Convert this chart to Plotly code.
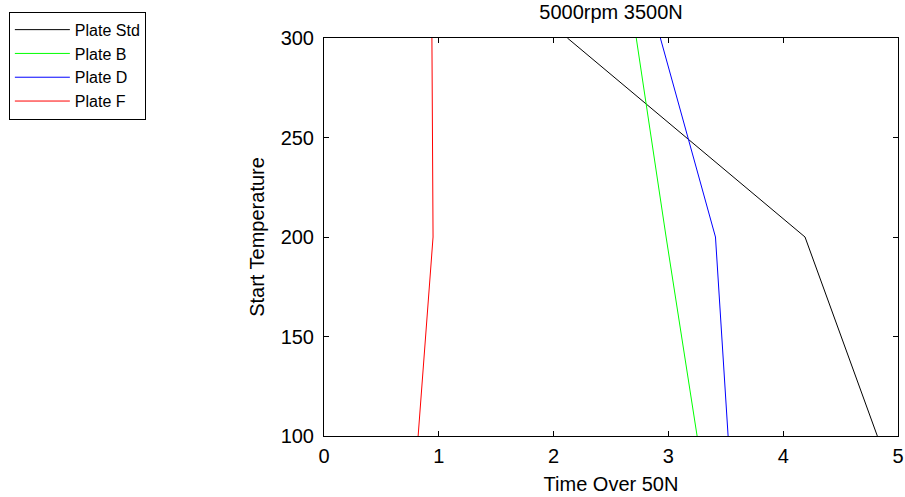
import plotly.graph_objects as go

# Start temperatures (y) and time over 50N (x) for each plate
start_temp = [100, 200, 300]
plate_std = [4.82, 4.19, 2.12]
plate_b = [3.25, 2.98, 2.72]
plate_d = [3.52, 3.41, 2.93]
plate_f = [0.82, 0.95, 0.94]

series = [
    ("Plate Std", plate_std, "black"),
    ("Plate B", plate_b, "#00ff00"),
    ("Plate D", plate_d, "#0000ff"),
    ("Plate F", plate_f, "#ff0000"),
]

FONT = "Arial, Liberation Sans, sans-serif"

fig = go.Figure()
for i, (name, xs, color) in enumerate(series):
    fig.add_trace(go.Scatter(
        x=xs, y=start_temp, mode="lines", name=name,
        line=dict(color=color, width=1),
        legendgroup=f"g{i}",
    ))

axis_common = dict(
    showline=True, linecolor="black", linewidth=1, mirror="ticks",
    ticks="inside", ticklen=5, tickcolor="black", tickwidth=1,
    showgrid=False, zeroline=False, automargin=False,
    tickfont=dict(family=FONT, size=20, color="black"),
)

fig.update_layout(
    width=905, height=497,
    margin=dict(l=324, r=7, t=38, b=61),
    paper_bgcolor="white", plot_bgcolor="white",
    font=dict(family=FONT, color="black"),
    title=dict(text="5000rpm 3500N", x=0.5, xref="paper", xanchor="center",
               y=0.976, yanchor="middle", font=dict(size=20, color="black")),
    xaxis=dict(range=[0, 5], dtick=1, ticklabelstandoff=2,
               title=dict(text="Time Over 50N", font=dict(size=20), standoff=10),
               **axis_common),
    yaxis=dict(range=[100, 300], dtick=50, ticklabelstandoff=5,
               title=dict(text="Start Temperature", font=dict(size=20), standoff=10),
               **axis_common),
    legend=dict(
        x=-0.549, y=1.066, xanchor="left", yanchor="top",
        bordercolor="black", borderwidth=1, bgcolor="white",
        font=dict(family=FONT, size=16, color="black"),
        tracegroupgap=0, itemwidth=55,
    ),
)

fig.write_html("out.html")
